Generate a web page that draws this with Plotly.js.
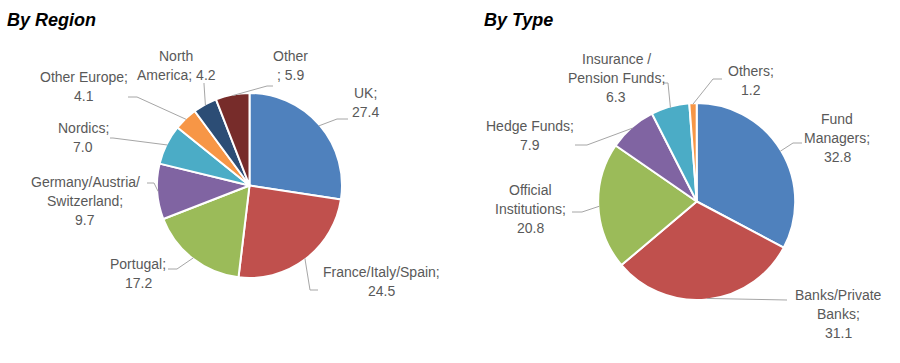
<!DOCTYPE html>
<html>
<head>
<meta charset="utf-8">
<script src="https://cdn.plot.ly/plotly-3.0.1.min.js"></script>
<style>html,body{margin:0;padding:0;background:#fff;}#chart{width:900px;height:363px;}</style>
</head>
<body>
<div id="chart"></div>
<script>
// ---- Data ----
const regionLabels = ['UK', 'France/Italy/Spain', 'Portugal', 'Germany/Austria/Switzerland', 'Nordics', 'Other Europe', 'North America', 'Other'];
const regionValues = [27.4, 24.5, 17.2, 9.7, 7.0, 4.1, 4.2, 5.9];
const regionColors = ['#4F81BD', '#C0504D', '#9BBB59', '#8064A2', '#4BACC6', '#F79646', '#2C4D75', '#772C2A'];
// displayed label lines (%v = value)
const regionTextLines = [['UK;', '%v'], ['France/Italy/Spain;', '%v'], ['Portugal;', '%v'], ['Germany/Austria/', 'Switzerland;', '%v'], ['Nordics;', '%v'], ['Other Europe;', '%v'], ['North', 'America; %v'], ['Other', '; %v']];

const typeLabels = ['Fund Managers', 'Banks/Private Banks', 'Official Institutions', 'Hedge Funds', 'Insurance / Pension Funds', 'Others'];
const typeValues = [32.8, 31.1, 20.8, 7.9, 6.3, 1.2];
const typeColors = ['#4F81BD', '#C0504D', '#9BBB59', '#8064A2', '#4BACC6', '#F79646'];
const typeTextLines = [['Fund', 'Managers;', '%v'], ['Banks/Private', 'Banks;', '%v'], ['Official', 'Institutions;', '%v'], ['Hedge Funds;', '%v'], ['Insurance /', 'Pension Funds;', '%v'], ['Others;', '%v']];

// ---- Layout (pixel geometry) ----
const W = 900, H = 363;
const LINE_GAP = 19;
const pies = [
  { title: 'By Region', titleX: 5, cx: 249.5, cy: 185.5, r: 92.5,
    labels: regionLabels, values: regionValues, colors: regionColors, lines: regionTextLines,
    // label centre x, first-line y, leader elbow, leader end
    pos: [
      { x: 365, y: 93, elbow: [337, 119], end: [348, 119] },
      { x: 381, y: 272, elbow: [310, 290], end: [318, 290] },
      { x: 138, y: 264, elbow: [177, 269], end: [168, 269] },
      { x: 85, y: 182, elbow: [154, 183], end: [147, 183] },
      { x: 83, y: 128, elbow: [113, 138], end: [110, 138] },
      { x: 84, y: 77, elbow: [137, 97], end: [128, 97] },
      { x: 176, y: 56, elbow: [204, 84], end: [204, 83] },
      { x: 290, y: 56, elbow: [267, 86], end: [273, 86] }
    ] },
  { title: 'By Type', titleX: 482, cx: 696.7, cy: 201.5, r: 98.5,
    labels: typeLabels, values: typeValues, colors: typeColors, lines: typeTextLines,
    pos: [
      { x: 837, y: 119, elbow: [793, 143], end: [802, 143] },
      { x: 838, y: 295, elbow: [787, 300], end: [787, 300] },
      { x: 530, y: 190, elbow: [582, 212], end: [572, 212] },
      { x: 530, y: 126, elbow: [587, 145], end: [575, 145] },
      { x: 616, y: 59, elbow: [668, 83], end: [663, 83] },
      { x: 751, y: 71, elbow: [713, 79], end: [722, 79] }
    ] }
];

const px = x => x / W;
const py = y => 1 - y / H;

const traces = [];
const annotations = [];
const shapes = [];

pies.forEach(p => {
  traces.push({
    type: 'pie',
    labels: p.labels,
    values: p.values,
    sort: false,
    direction: 'clockwise',
    rotation: 0,
    textinfo: 'none',
    textposition: 'none',
    hoverinfo: 'skip',
    showlegend: false,
    marker: { colors: p.colors, line: { color: '#ffffff', width: 2 } },
    domain: { x: [px(p.cx - p.r), px(p.cx + p.r)], y: [py(p.cy + p.r), py(p.cy - p.r)] }
  });

  annotations.push({
    xref: 'paper', yref: 'paper', x: px(p.titleX), y: py(8), xanchor: 'left', yanchor: 'top',
    text: '<b><i>' + p.title + '</i></b>', showarrow: false,
    font: { family: 'Liberation Sans, Arial, sans-serif', size: 18, color: '#000000' }
  });

  const total = p.values.reduce((a, b) => a + b, 0);
  let cum = 0;
  p.values.forEach((v, i) => {
    const mid = (cum + v / 2) / total;
    cum += v;
    const ang = 2 * Math.PI * mid;
    const ax = p.cx + (p.r - 1) * Math.sin(ang);
    const ay = p.cy - (p.r - 1) * Math.cos(ang);
    const q = p.pos[i];
    shapes.push({
      type: 'path', xref: 'paper', yref: 'paper',
      path: `M ${px(ax)} ${py(ay)} L ${px(q.elbow[0])} ${py(q.elbow[1])} L ${px(q.end[0])} ${py(q.end[1])}`,
      line: { color: '#A6A6A6', width: 1 }
    });
    p.lines[i].forEach((ln, k) => {
      annotations.push({
        xref: 'paper', yref: 'paper', x: px(q.x), y: py(q.y + k * LINE_GAP),
        xanchor: 'center', yanchor: 'middle', showarrow: false,
        text: ln.replace('%v', v.toFixed(1)),
        font: { family: 'Liberation Sans, Arial, sans-serif', size: 14, color: '#595959' }
      });
    });
  });
});

const layout = {
  width: W, height: H,
  margin: { l: 0, r: 0, t: 0, b: 0 },
  paper_bgcolor: '#ffffff', plot_bgcolor: '#ffffff',
  showlegend: false,
  annotations: annotations,
  shapes: shapes
};

Plotly.newPlot('chart', traces, layout, { displayModeBar: false, staticPlot: true });
</script>
</body>
</html>
